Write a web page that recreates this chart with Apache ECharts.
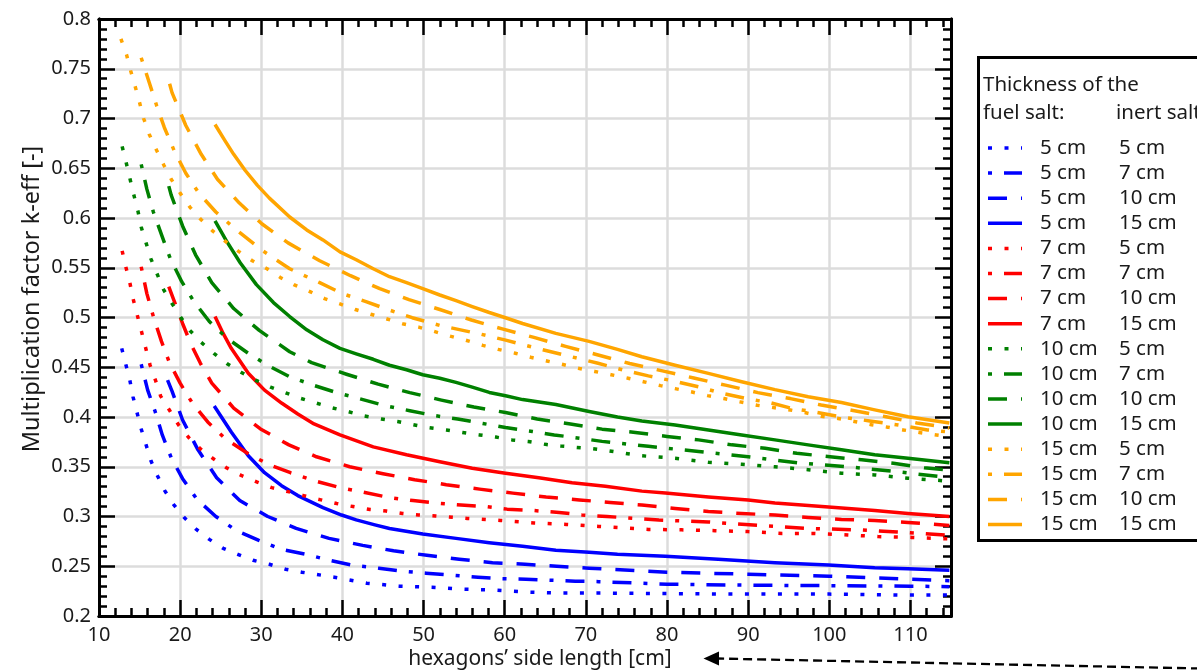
<!DOCTYPE html>
<html>
<head>
<meta charset="utf-8">
<script src="https://cdn.jsdelivr.net/npm/echarts@6/dist/echarts.min.js"></script>
<style>
html,body{margin:0;padding:0;background:#fff;}
#chart{width:1197px;height:670px;}
</style>
</head>
<body>
<div id="chart"></div>
<script>
// ---- Data: [side length (cm), k-eff] ----
// fuel 5 cm
const fuel5_inert5 = [[12.8,0.469],[13.3,0.453],[13.8,0.437],[14.2,0.420],[14.7,0.404],[15.2,0.388],[15.8,0.372],[16.4,0.356],[17.2,0.341],[18.1,0.326],[19.2,0.312],[20.5,0.299],[22,0.287],[23.6,0.277],[25.3,0.268],[27.1,0.262],[29,0.256],[31,0.252],[33,0.247],[35,0.244],[39,0.239],[43,0.233],[47,0.230],[51,0.229],[55,0.227],[59,0.226],[63,0.224],[67,0.223],[73,0.223],[80,0.2225],[90,0.222],[100,0.222],[110,0.221],[114.8,0.221]];
const fuel5_inert7 = [[15.2,0.453],[16,0.427],[16.9,0.406],[17.8,0.382],[18.9,0.359],[20.3,0.338],[22.1,0.317],[24.4,0.300],[26.9,0.286],[29.7,0.276],[32.5,0.267],[35.5,0.262],[38.4,0.256],[41.3,0.251],[44.5,0.248],[47.4,0.245],[50.3,0.243],[53.6,0.241],[56.7,0.239],[59.5,0.2375],[62.6,0.237],[65.6,0.236],[68.7,0.235],[71.6,0.2345],[80,0.232],[90,0.231],[100,0.2305],[110,0.230],[114.8,0.2295]];
const fuel5_inert10 = [[18.45,0.437],[19,0.426],[20.3,0.397],[22.2,0.367],[24.5,0.339],[27.35,0.316],[30.8,0.300],[34.3,0.288],[38.35,0.278],[42.5,0.271],[46.3,0.2655],[50.4,0.261],[54.4,0.257],[58.5,0.2536],[62.5,0.252],[66.4,0.25],[70.4,0.248],[80,0.244],[90,0.242],[100,0.240],[110,0.237],[114.8,0.2355]];
const fuel5_inert15 = [[24.2,0.411],[26.3,0.385],[28.4,0.361],[30.4,0.344],[32.5,0.331],[34.5,0.321],[37.6,0.309],[39.9,0.3015],[41.7,0.2966],[44,0.2916],[45.8,0.288],[49.9,0.2825],[54,0.278],[58.1,0.2737],[62.2,0.27],[66.3,0.266],[70.4,0.264],[73.9,0.262],[79.8,0.26],[86.3,0.257],[93.3,0.2535],[99.9,0.2513],[105.6,0.2485],[109.7,0.2475],[114.8,0.246]];
// fuel 7 cm
const fuel7_inert5 = [[12.85,0.567],[13.3,0.551],[13.8,0.535],[14.2,0.519],[14.7,0.503],[15.2,0.487],[15.7,0.471],[16.3,0.452],[17,0.436],[17.6,0.421],[18.75,0.406],[19.8,0.392],[21.1,0.379],[22.5,0.368],[24.1,0.358],[25.7,0.349],[27.6,0.341],[29.5,0.3346],[31.3,0.329],[33.3,0.325],[35.2,0.321],[37.2,0.317],[39.3,0.313],[41.3,0.310],[43.4,0.307],[45.4,0.3055],[47.4,0.303],[49.4,0.3015],[51.5,0.3005],[55.4,0.298],[59.5,0.296],[63.6,0.2935],[67.6,0.292],[71.6,0.290],[77.7,0.287],[81.8,0.2866],[85.9,0.2858],[90,0.2848],[94.2,0.283],[98.2,0.283],[102.3,0.2815],[106,0.2798],[110.1,0.279],[114.8,0.2775]];
const fuel7_inert7 = [[15.2,0.551],[15.9,0.524],[16.7,0.501],[17.7,0.476],[18.66,0.455],[20,0.434],[21.5,0.414],[23.4,0.395],[25.6,0.378],[28.4,0.363],[31,0.352],[33.6,0.344],[36.5,0.336],[39.7,0.329],[42.5,0.3246],[45.8,0.319],[48.7,0.316],[51.7,0.3134],[54.6,0.3115],[57.7,0.31],[60.3,0.3074],[63.6,0.306],[66.7,0.304],[69.5,0.3016],[72.6,0.30],[79,0.2965],[85.1,0.2945],[91.3,0.291],[97.4,0.288],[103.5,0.2866],[108.4,0.2844],[114.8,0.281]];
const fuel7_inert10 = [[18.6,0.531],[19.2,0.518],[20.3,0.494],[21.4,0.472],[22.5,0.454],[23.9,0.434],[26.6,0.409],[29.9,0.388],[33.4,0.372],[36.8,0.36],[40.9,0.35],[45,0.343],[48.9,0.337],[52.8,0.332],[56.9,0.3275],[61,0.3235],[65.1,0.3195],[69.2,0.3167],[73,0.314],[76.9,0.3116],[81,0.308],[85.1,0.305],[89.2,0.303],[93.3,0.3015],[97.4,0.299],[101.5,0.297],[105.6,0.296],[109.7,0.294],[114.8,0.291]];
const fuel7_inert15 = [[24.3,0.501],[25.3,0.484],[26.3,0.469],[28.4,0.444],[30.4,0.427],[32.5,0.414],[34.5,0.403],[36.5,0.393],[39.7,0.382],[43.8,0.370],[47.9,0.362],[52,0.355],[56,0.3485],[60.1,0.3435],[64.2,0.339],[68.3,0.334],[72.4,0.3305],[76.9,0.3255],[79.8,0.3235],[85.1,0.3195],[90,0.3165],[93.3,0.3135],[99.9,0.3095],[105.6,0.306],[109.7,0.303],[114.8,0.300]];
// fuel 10 cm
const fuel10_inert5 = [[12.85,0.672],[13.34,0.656],[13.8,0.64],[14.3,0.623],[14.8,0.607],[15.2,0.591],[15.8,0.575],[16.4,0.559],[17.15,0.544],[17.96,0.528],[19,0.514],[20.1,0.50],[21.2,0.487],[22.6,0.475],[24.2,0.4636],[25.8,0.4535],[27.5,0.445],[29.3,0.437],[31.15,0.43],[33.1,0.424],[34.75,0.419],[38.6,0.4095],[40.7,0.4054],[42.7,0.401],[44.8,0.398],[46.8,0.3955],[48.9,0.392],[50.7,0.3892],[52.8,0.387],[54.8,0.3844],[56.9,0.382],[58.9,0.3798],[60.9,0.377],[62.9,0.3754],[65,0.3725],[66.9,0.3708],[68.8,0.3695],[70.9,0.368],[72.8,0.366],[76.9,0.361],[81,0.3585],[85.1,0.3545],[89.2,0.3525],[93.3,0.35],[97.4,0.347],[101.5,0.3435],[105.6,0.3418],[109.7,0.3385],[114.8,0.3355]];
const fuel10_inert7 = [[15.2,0.654],[15.9,0.629],[16.7,0.606],[17.8,0.581],[18.8,0.559],[20.2,0.536],[21.7,0.516],[23.6,0.496],[25.8,0.479],[28.4,0.464],[31,0.451],[33.5,0.4405],[36.4,0.432],[39.3,0.4245],[42.3,0.418],[45.2,0.4115],[48.3,0.4063],[51.3,0.4015],[54.2,0.398],[57.3,0.3935],[60.1,0.3895],[63.4,0.3855],[66.1,0.382],[69.2,0.3787],[72,0.3755],[77.7,0.3705],[83.9,0.3653],[90,0.360],[96.1,0.354],[102.3,0.350],[108.4,0.345],[114.8,0.339]];
const fuel10_inert10 = [[18.6,0.632],[18.9,0.623],[20.3,0.592],[21.9,0.563],[23.9,0.535],[26.6,0.509],[29.75,0.487],[33.5,0.4656],[36.2,0.4546],[40.5,0.443],[44.4,0.433],[48.3,0.4245],[52.2,0.417],[56.2,0.41],[60.1,0.4045],[64,0.398],[68.1,0.393],[72,0.3878],[76.1,0.3845],[80,0.3805],[83.9,0.377],[88,0.372],[92.1,0.3685],[96,0.3635],[100.1,0.36],[104,0.357],[107.9,0.3535],[111.7,0.349],[114.8,0.3465]];
const fuel10_inert15 = [[24.3,0.597],[25.7,0.577],[27.4,0.555],[29.4,0.533],[31.5,0.515],[33.5,0.501],[35.6,0.4876],[37.6,0.4776],[39.7,0.469],[41.7,0.4635],[43.8,0.458],[45.8,0.452],[47.9,0.4475],[49.9,0.4425],[52,0.439],[54,0.4348],[56,0.43],[58.1,0.4247],[60.1,0.4214],[62.2,0.4175],[66.3,0.4125],[70.4,0.4056],[73.9,0.40],[76.9,0.396],[81,0.392],[85.1,0.387],[89.2,0.382],[93.3,0.377],[97.4,0.372],[101.5,0.367],[105.6,0.362],[109.7,0.3585],[114.8,0.354]];
// fuel 15 cm
const fuel15_inert5 = [[12.7,0.78],[13.4,0.764],[13.9,0.748],[14.5,0.731],[15,0.716],[15.5,0.7],[16.2,0.684],[17.1,0.668],[18,0.653],[18.9,0.639],[20,0.625],[21.2,0.611],[22.5,0.599],[24,0.587],[25.5,0.577],[27.2,0.5665],[28.9,0.557],[30.7,0.549],[32.4,0.540],[34,0.533],[36,0.526],[37.8,0.519],[39.7,0.5136],[41.6,0.508],[43.6,0.503],[45.5,0.4985],[47.4,0.4938],[49.4,0.4903],[51.3,0.486],[53.4,0.481],[55.2,0.4772],[57.3,0.472],[59.2,0.468],[61.3,0.4641],[63.2,0.46],[65.2,0.4563],[67.3,0.4525],[69.2,0.4488],[71.1,0.4458],[73.1,0.4425],[75.2,0.439],[77.1,0.4355],[79.2,0.4315],[81,0.4285],[83.1,0.4251],[85,0.4215],[87,0.4185],[89,0.4152],[91.1,0.4118],[93.1,0.4095],[95.2,0.407],[97.1,0.4042],[99,0.4008],[101.1,0.3985],[103.1,0.3955],[105.2,0.3922],[107.2,0.3898],[109.1,0.387],[111.1,0.3844],[113.2,0.382],[114.8,0.380]];
const fuel15_inert7 = [[15.2,0.761],[16.2,0.736],[17.1,0.713],[18.05,0.691],[19.3,0.667],[20.7,0.645],[22.3,0.625],[24.4,0.606],[26.8,0.589],[30,0.568],[33.5,0.549],[37.2,0.535],[40,0.524],[42.9,0.516],[45.6,0.508],[48.6,0.4998],[52,0.492],[56.9,0.4835],[60,0.4775],[64,0.469],[68,0.461],[71.5,0.454],[74.9,0.4466],[77.7,0.4413],[80.8,0.4362],[83.9,0.4303],[86.8,0.4238],[89.8,0.4185],[92.7,0.4144],[95.2,0.409],[98.7,0.4043],[101.5,0.40],[105,0.396],[108.5,0.392],[112.1,0.387],[114.8,0.385]];
const fuel15_inert10 = [[18.7,0.735],[19,0.726],[20.7,0.693],[22.6,0.664],[24.6,0.639],[27.3,0.615],[30.1,0.594],[33.3,0.575],[37.2,0.557],[41,0.542],[44.6,0.529],[48.2,0.518],[52,0.508],[55.9,0.4975],[59.7,0.4885],[63.6,0.48],[67.5,0.471],[71.4,0.4626],[75.4,0.4538],[79.3,0.4466],[83.3,0.4392],[87.2,0.432],[91.2,0.4245],[95.2,0.4185],[99,0.412],[103.1,0.4063],[107,0.4003],[110.8,0.394],[114.8,0.389]];
const fuel15_inert15 = [[24.3,0.694],[25.5,0.678],[26.6,0.664],[28,0.648],[29.5,0.633],[31,0.62],[33.5,0.601],[35.6,0.588],[37.6,0.578],[39.7,0.566],[41.7,0.558],[43.8,0.549],[45.8,0.541],[47.9,0.535],[49.9,0.529],[52,0.5226],[54,0.517],[56,0.511],[58.1,0.505],[60,0.50],[62.2,0.494],[66.3,0.484],[70.4,0.476],[73.9,0.468],[76.9,0.4606],[81,0.452],[85.1,0.4438],[89.2,0.4355],[93.3,0.4275],[97.4,0.4204],[101.5,0.4145],[105.6,0.4072],[109.7,0.4003],[114.8,0.394]];

const fuelLabels = ['5 cm','7 cm','10 cm','15 cm'];
const inertLabels = ['5 cm','7 cm','10 cm','15 cm'];
const seriesData = [
  [fuel5_inert5, fuel5_inert7, fuel5_inert10, fuel5_inert15],
  [fuel7_inert5, fuel7_inert7, fuel7_inert10, fuel7_inert15],
  [fuel10_inert5, fuel10_inert7, fuel10_inert10, fuel10_inert15],
  [fuel15_inert5, fuel15_inert7, fuel15_inert10, fuel15_inert15]
];
const xTickValues = [10,20,30,40,50,60,70,80,90,100,110];
const yTickValues = [0.2,0.25,0.3,0.35,0.4,0.45,0.5,0.55,0.6,0.65,0.7,0.75,0.8];

// ---- Styles ----
const colors = ['#0000ff','#ff0000','#008000','#ffa500'];
const dashes = [[4,12.5],[4,12,19,12],[19,14],'solid'];
const FONT = "'Noto Sans', 'Open Sans', sans-serif";
const TXT = '#1a1a1a';
const LW = 3.5;

const chart = echarts.init(document.getElementById('chart'), null, {renderer:'canvas'});

const series = [];
for (let f = 0; f < 4; f++) {
  for (let i = 0; i < 4; i++) {
    series.push({
      name: fuelLabels[f] + ' / ' + inertLabels[i],
      type: 'line',
      data: seriesData[f][i],
      showSymbol: false,
      symbol: 'none',
      smooth: false,
      lineStyle: {color: colors[f], width: LW, type: dashes[i], cap: 'butt', join: 'round'},
      z: 3
    });
  }
}

const xMin = xTickValues[0], xMax = 115, yMin = yTickValues[0], yMax = yTickValues[yTickValues.length-1];
function xAx(pos, major) {
  return {
    type:'value', position: pos, min:xMin, max:xMax, interval: major ? 10 : 2,
    axisLine:{show:true, onZero:false, lineStyle:{color:'#000', width:3}},
    axisTick:{show:true, inside:true, length: major ? 16 : 8, lineStyle:{color:'#000', width:2.5}},
    axisLabel:{show: major && pos==='bottom', fontSize:20, margin:9, color:TXT, fontFamily:FONT, showMaxLabel:false},
    splitLine:{show: major && pos==='bottom', lineStyle:{color:'#dcdcdc', width:2.5}}
  };
}
function yAx(pos, major) {
  return {
    type:'value', position: pos, min:yMin, max:yMax, interval: major ? 0.05 : 0.01,
    axisLine:{show:true, onZero:false, lineStyle:{color:'#000', width:3}},
    axisTick:{show:true, inside:true, length: major ? 16 : 8, lineStyle:{color:'#000', width:2.5}},
    axisLabel:{show: major && pos==='left', fontSize:20, margin:8, color:TXT, fontFamily:FONT,
      formatter: v => String(+(+v).toFixed(2))},
    splitLine:{show: major && pos==='left', lineStyle:{color:'#dcdcdc', width:2.5}}
  };
}

// legend graphics
const els = [];
const LF = '20.5px ' + FONT;
els.push({type:'rect', shape:{x:978.5, y:57.5, width:240, height:483}, style:{fill:'#fff', stroke:'#000', lineWidth:3}, z:10});
els.push({type:'text', x:983, y:85, style:{text:'Thickness of the', font:LF, fill:TXT, verticalAlign:'middle'}, z:11});
els.push({type:'text', x:983, y:113, style:{text:'fuel salt:', font:LF, fill:TXT, verticalAlign:'middle'}, z:11});
els.push({type:'text', x:1116, y:113, style:{text:'inert salt', font:LF, fill:TXT, verticalAlign:'middle'}, z:11});
let row = 0;
for (let f = 0; f < 4; f++) {
  for (let i = 0; i < 4; i++) {
    const y = 148 + row * 25.1;
    const d = dashes[i];
    els.push({type:'line', shape:{x1:988, y1:y, x2:1022, y2:y},
      style:{stroke:colors[f], lineWidth:LW, lineDash: d === 'solid' ? null : d, lineCap:'butt'}, z:11});
    els.push({type:'text', x:1040, y:y, style:{text:fuelLabels[f], font:LF, fill:TXT, verticalAlign:'middle'}, z:11});
    els.push({type:'text', x:1119, y:y, style:{text:inertLabels[i], font:LF, fill:TXT, verticalAlign:'middle'}, z:11});
    row++;
  }
}
// axis titles
els.push({type:'text', x:540, y:659, style:{text:'hexagons\u2019 side length [cm]', font:'21px '+FONT, fill:TXT, align:'center', verticalAlign:'middle'}, z:11});
els.push({type:'text', x:32, y:299, rotation:Math.PI/2, style:{text:'Multiplication factor k-eff [-]', font:'23.5px '+FONT, fill:TXT, align:'center', verticalAlign:'middle'}, z:11});
// dashed arrow
els.push({type:'line', shape:{x1:1200, y1:668.5, x2:717, y2:658.5}, style:{stroke:'#000', lineWidth:2.3, lineDash:[9,5]}, z:11});
els.push({type:'polygon', shape:{points:[[703.5,658.5],[719,651.5],[719,665.5]]}, style:{fill:'#000'}, z:11});

chart.setOption({
  animation:false,
  backgroundColor:'#fff',
  grid:{left:99, right:246, top:19, bottom:54, containLabel:false},
  xAxis:[xAx('bottom',true), xAx('bottom',false), xAx('top',true), xAx('top',false)],
  yAxis:[yAx('left',true), yAx('left',false), yAx('right',true), yAx('right',false)],
  series: series,
  graphic: els
});
</script>
</body>
</html>
